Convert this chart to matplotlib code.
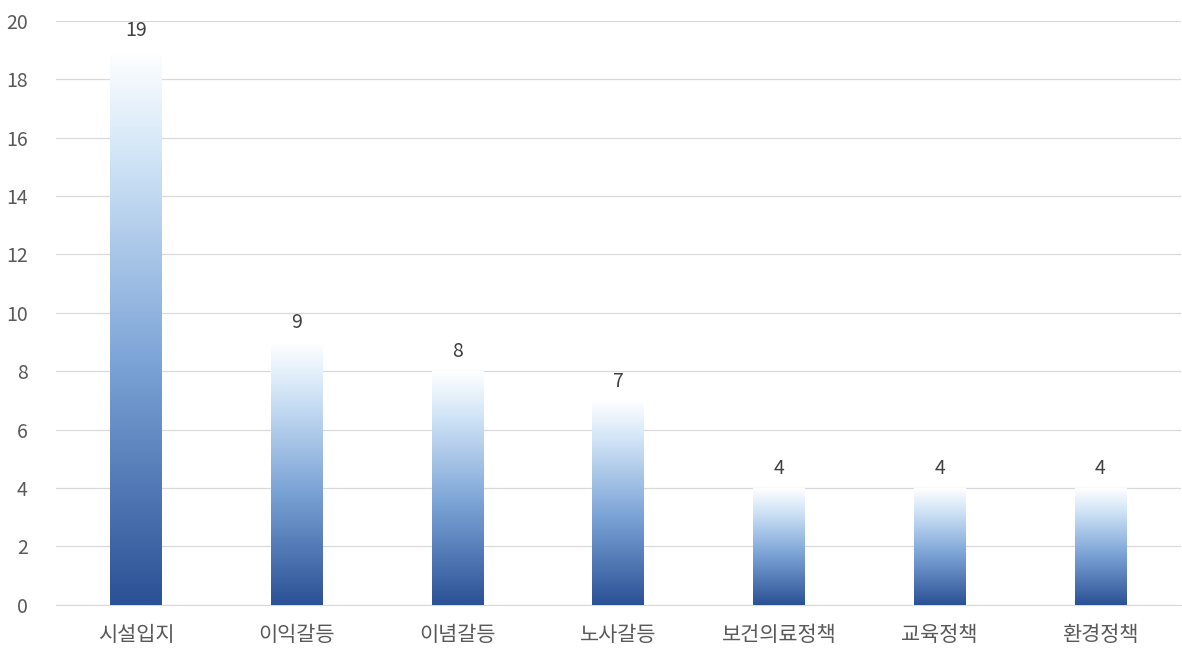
import matplotlib
matplotlib.use("Agg")
import matplotlib.pyplot as plt
import numpy as np
from matplotlib.colors import LinearSegmentedColormap

# -----------------------------
# Data
# -----------------------------

categories = ["시설입지", "이익갈등", "이념갈등", "노사갈등", "보건의료정책", "교육정책", "환경정책"]

counts = [19, 9, 8, 7, 4, 4, 4]

y_ticks = [0, 2, 4, 6, 8, 10, 12, 14, 16, 18, 20]

# -----------------------------
# Style
# -----------------------------

plt.rcParams["font.family"] = ["Noto Sans CJK KR", "DejaVu Sans"]

cmap = LinearSegmentedColormap.from_list(
    "bar_grad",
    [(0.0, "#2B5196"), (0.45, "#7FA6D8"), (0.8, "#CFE3F6"), (1.0, "#FFFFFF")]
)

gradient = np.linspace(0, 1, 256).reshape(-1, 1)

# -----------------------------
# Figure
# -----------------------------

fig = plt.figure(figsize=(11.82, 6.49), dpi=100)

ax = fig.add_axes([0.047, 0.068, 0.952, 0.9])

x = np.arange(len(categories))

bar_width = 0.32

bars = ax.bar(x, counts, width=bar_width, color="none", edgecolor="none", zorder=3)

for bar, value in zip(bars, counts):

    x0 = bar.get_x()

    x1 = x0 + bar.get_width()

    im = ax.imshow(
        gradient,
        cmap=cmap,
        origin="lower",
        extent=[x0, x1, 0, value],
        aspect="auto",
        zorder=3
    )

    im.set_clip_path(bar)

    ax.text(
        bar.get_x() + bar.get_width() / 2,
        value + 0.3,
        str(value),
        ha="center",
        va="bottom",
        fontsize=14,
        color="#404040",
        zorder=4
    )

ax.set_xlim(-0.5, len(categories) - 0.5)

ax.set_ylim(0, 20)

ax.set_yticks(y_ticks)

ax.set_xticks(x)

ax.set_xticklabels(categories)

ax.tick_params(axis="both", length=0, colors="#595959")

ax.tick_params(axis="x", pad=14, labelsize=15)

ax.tick_params(axis="y", pad=20, labelsize=14)

ax.grid(axis="y", color="#D9D9D9", linewidth=0.9, zorder=0)

ax.set_axisbelow(True)

for side in ["top", "right", "left"]:

    ax.spines[side].set_visible(False)

ax.spines["bottom"].set_color("#D9D9D9")

fig.savefig("out.png", dpi=100)

plt.close(fig)
